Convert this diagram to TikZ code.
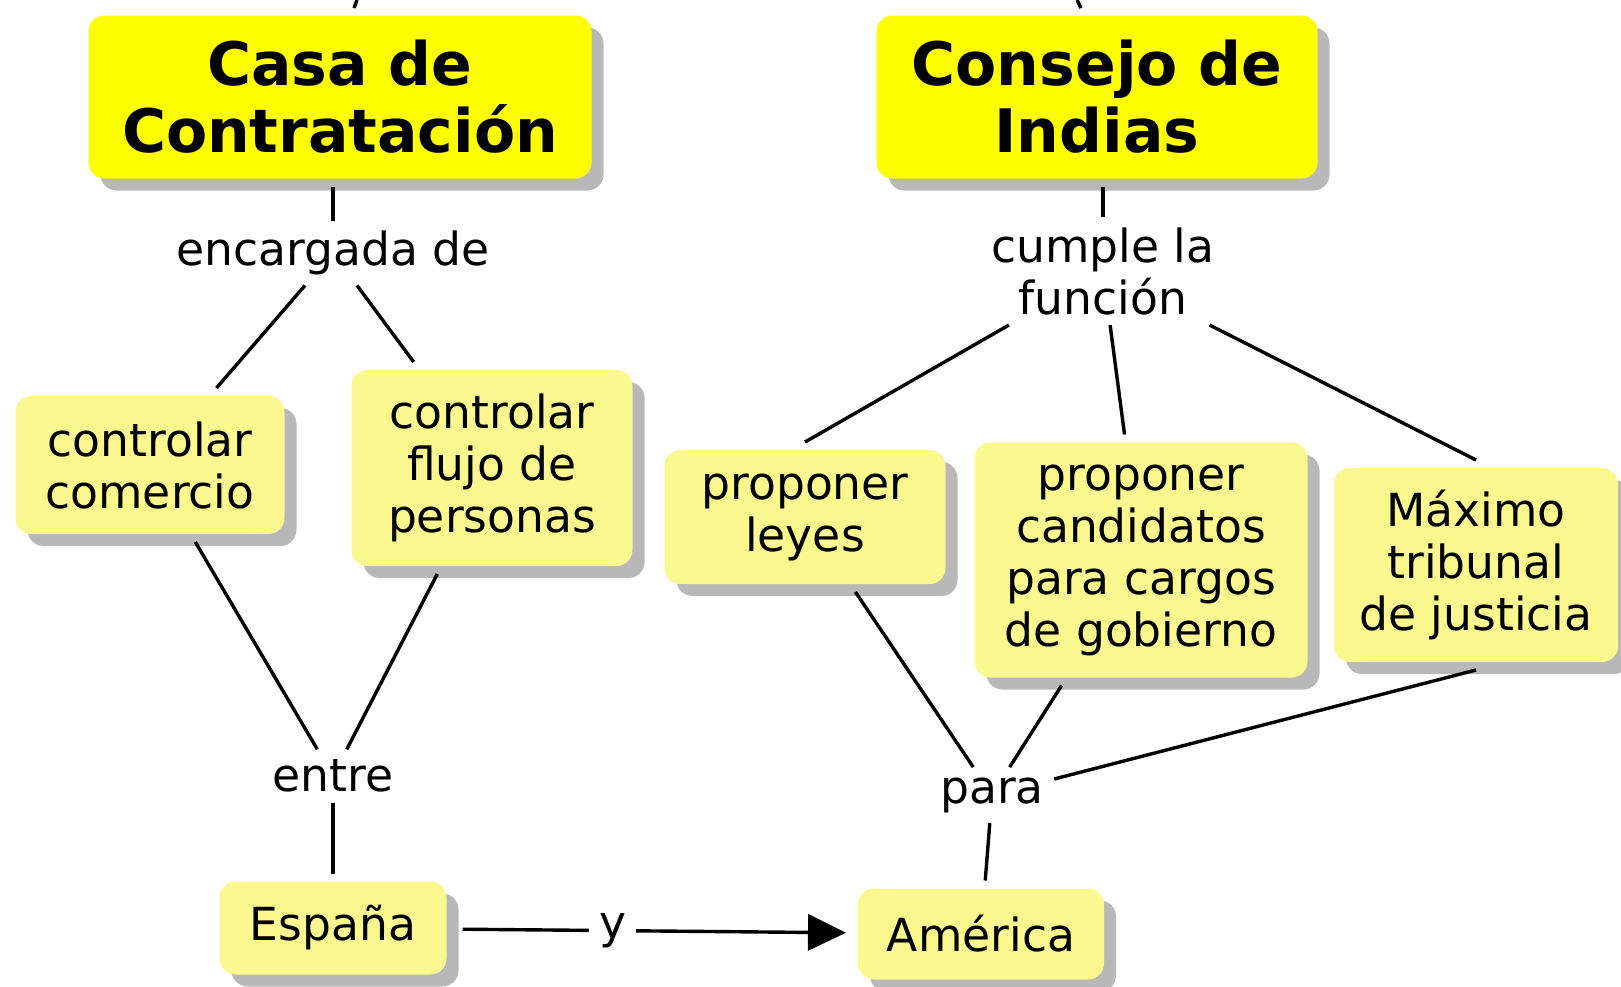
\documentclass[tikz,border=0pt]{standalone}
\usepackage{fontspec}
\setmainfont{DejaVu Sans}
\usetikzlibrary{positioning, calc, shadows, arrows.meta}
\definecolor{titleyellow}{HTML}{FFFF00}
\definecolor{paleyellow}{HTML}{FAF88E}
\definecolor{shadowgray}{HTML}{B8B8B8}
\tikzset{ % box and label styles
  my box/.style={rounded corners=8pt,inner sep=4pt,outer sep=4pt,align=center,
    drop shadow={shadow xshift=6pt,shadow yshift=-6pt,fill=shadowgray,opacity=1}},
  title/.style={my box,fill=titleyellow,font=\fontsize{30}{33.5}\selectfont\bfseries},
  concept/.style={my box,fill=paleyellow,font=\fontsize{22.8}{26}\selectfont},
  link/.style={inner sep=5pt,align=center,font=\fontsize{22.8}{26}\selectfont},
  conn/.style={line width=1.7pt}
}

\begin{document}
\begin{tikzpicture}[x=0.5pt,y=-0.5pt]
\useasboundingbox (0,0) rectangle (1621,986);

% main concepts
\node[title,minimum width=251.5pt,minimum height=81.5pt] (casa)    at (340,97)  {Casa de\\Contratación};
\node[title,minimum width=220.5pt,minimum height=81.5pt] (consejo) at (1097,97) {Consejo de\\Indias};

% left side
\node[link] (encargada) at (333,253) {encargada de};
\node[concept,minimum width=134.5pt,minimum height=69pt] (comercio) at (150,465) {controlar\\comercio};
\node[concept,minimum width=140.5pt,minimum height=98pt] (flujo)    at (492,468) {controlar\\flujo de\\personas};
\node[link] (entre) at (333,776) {entre};
\node[concept,minimum width=113.5pt,minimum height=46.5pt] (espana) at (333,928) {España};

% right side
\node[link] (cumple) at (1103,271) {cumple la\\función};
\node[concept,minimum width=140.5pt,minimum height=67pt]    (leyes)      at (805,517)  {proponer\\leyes};
\node[concept,minimum width=166.5pt,minimum height=117.5pt] (candidatos) at (1141,560) {proponer\\candidatos\\para cargos\\de gobierno};
\node[concept,minimum width=142pt,minimum height=97pt]      (maximo)     at (1476,565) {Máximo\\tribunal\\de justicia};
\node[link] (para) at (992,795) {para};
\node[concept,minimum width=123pt,minimum height=45.5pt] (america) at (981,934) {América};

% cut-off links at the top
\coordinate (cutL)  at (357,0);
\coordinate (cutLe) at (354,8);
\coordinate (cutR)  at (1077,0);
\coordinate (cutRe) at (1081,8);
\draw[conn] (cutL) -- (cutLe);
\draw[conn] (cutR) -- (cutRe);

% connections
\draw[conn] (encargada) -- (encargada |- casa.south);
\draw[conn] (cumple) -- (cumple |- consejo.south);
\foreach\a/\b in {encargada/comercio,encargada/flujo,comercio/entre,flujo/entre,entre/espana,
  cumple/leyes.north,cumple/candidatos,cumple/maximo.north,
  leyes/para,candidatos/para,maximo.south/para,para/america}
  \draw[conn] (\a) -- (\b);

\draw[conn,-{Triangle[length=19pt,width=18pt]},shorten <=4pt,shorten >=2pt]
  (espana) -- node[link,fill=white,pos=0.40] (y) {y} (america);
\end{tikzpicture}
\end{document}
